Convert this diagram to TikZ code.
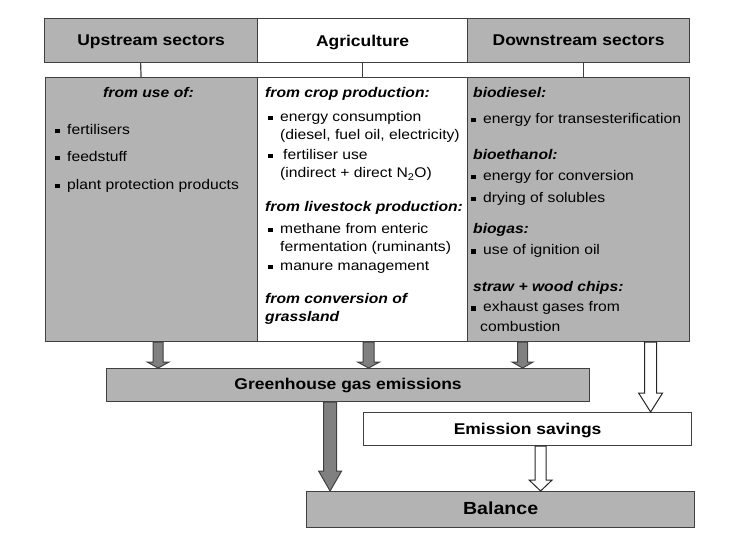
\documentclass[tikz,border=0pt]{standalone}
\usepackage{fontspec}
\setmainfont{Liberation Sans}[FakeStretch=1.12]
\usetikzlibrary{calc}
\definecolor{boxgray}{HTML}{B3B3B3}
\definecolor{arrgray}{HTML}{808080}
\definecolor{edge}{HTML}{404040}
\newcommand\bul{\rule[1.5pt]{4.5pt}{4.5pt}\hspace{7.5pt}}
% #1 style, #2 from, #3 to, #4 half shaft, #5 half head, #6 head length
\newcommand\blockarrow[6]{%
  \path[#1] let \p1=(#2), \p2=(#3) in
    (\x1-#4,\y1) -- (\x1+#4,\y1) -- (\x1+#4,\y2+#6) -- (\x1+#5,\y2+#6) --
    (\x1,\y2) -- (\x1-#5,\y2+#6) -- (\x1-#4,\y2+#6) -- cycle;}
\tikzset{
  box/.style={draw=edge, line width=1.2pt, anchor=north west, inner sep=0pt},
  graybox/.style={box, fill=boxgray},
  whitebox/.style={box, fill=white},
  head/.style={font=\fontsize{15.6}{17}\selectfont\bfseries},
  txt/.style={anchor=base west, inner sep=0pt, font=\fontsize{14}{16}\selectfont},
  sub/.style={txt, font=\fontsize{14}{16}\selectfont\bfseries\itshape},
  tick/.style={draw=edge, line width=1.2pt},
  garrow/.style={fill=arrgray, draw=edge, line width=1pt},
  warrow/.style={fill=white, draw=black!85, line width=1pt},
}
\begin{document}
\begin{tikzpicture}[x=1pt,y=-1pt]
\useasboundingbox (0,0) rectangle (736,537);
% headers
\node[graybox, minimum width=213pt, minimum height=44pt, head, text depth=-2pt] (hup) at (44,18) {Upstream sectors};
\node[whitebox, minimum width=210pt, minimum height=44pt, head, text depth=-2pt] (hagr) at (257,18) {Agriculture};
\node[graybox, minimum width=222pt, minimum height=44pt, head, text depth=-2pt] (hdown) at (467,18) {Downstream sectors};
% body boxes
\node[graybox, minimum width=212pt, minimum height=264pt] (bup) at (45,77) {};
\node[whitebox, minimum width=210pt, minimum height=264pt] (bagr) at (257,77) {};
\node[graybox, minimum width=222pt, minimum height=264pt] (bdown) at (467,77) {};
% ticks
\draw[tick] ([xshift=-10.5pt]hup.south) -- ([xshift=-10pt]hup.south |- bup.north);
\draw[tick] (hagr.south) -- (hagr.south |- bagr.north);
\draw[tick] ([xshift=4.5pt]hdown.south) -- ([xshift=4.5pt]hdown.south |- bdown.north);
% upstream texts
\node[sub] (u0) at (103,98) {from use of:};
\node[txt] (u1) at (55,135) {\bul fertilisers};
\node[txt] (u2) at (55,162) {\bul feedstuff};
\node[txt] (u3) at (55,190) {\bul plant protection products};
% agriculture texts
\node[sub] (a0) at (265,98) {from crop production:};
\node[txt] (a1) at (268,122) {\bul energy consumption};
\node[txt] (a2) at (280,140) {(diesel, fuel oil, electricity)};
\node[txt] (a3) at (268,160) {\bul\hspace{3pt}fertiliser use};
\node[txt] (a4) at (280,178) {(indirect + direct N\textsubscript{2}O)};
\node[sub] (a5) at (265,212) {from livestock production:};
\node[txt] (a6) at (268,234) {\bul methane from enteric};
\node[txt] (a7) at (280,252) {fermentation (ruminants)};
\node[txt] (a8) at (268,271) {\bul manure management};
\node[sub] (a9) at (265,304) {from conversion of};
\node[sub] (a10) at (265,321) {grassland};
% downstream texts
\node[sub] (d0) at (473,98) {biodiesel:};
\node[txt] (d1) at (471,124) {\bul energy for transesterification};
\node[sub] (d2) at (473,160) {bioethanol:};
\node[txt] (d3) at (471,181) {\bul energy for conversion};
\node[txt] (d4) at (471,203) {\bul drying of solubles};
\node[sub] (d5) at (473,234) {biogas:};
\node[txt] (d6) at (471,255) {\bul use of ignition oil};
\node[sub] (d7) at (473,291) {straw + wood chips:};
\node[txt] (d8) at (471,312) {\bul exhaust gases from};
\node[txt] (d9) at (480,331) {combustion};
% lower boxes
\node[graybox, minimum width=483pt, minimum height=33pt, head] (ghg) at (106,368) {Greenhouse gas emissions};
\node[whitebox, minimum width=328pt, minimum height=33pt, head, text depth=-1pt] (sav) at (363,412) {Emission savings};
\node[graybox, minimum width=388pt, minimum height=36pt, font=\fontsize{17.5}{19}\selectfont\bfseries, text depth=2pt] (bal) at (306,491) {Balance};
% arrows
\blockarrow{garrow}{[xshift=6.5pt]bup.south}{ghg.north}{5pt}{11pt}{6pt}
\blockarrow{garrow}{[xshift=6pt]bagr.south}{ghg.north}{5.5pt}{11pt}{6pt}
\blockarrow{garrow}{[xshift=-56pt]bdown.south}{ghg.north}{5pt}{10.5pt}{6pt}
\blockarrow{garrow}{[xshift=-18pt]ghg.south}{bal.north}{6.5pt}{11.5pt}{20pt}
\blockarrow{warrow}{[xshift=72pt]bdown.south}{sav.north}{6pt}{12pt}{19pt}
\blockarrow{warrow}{[xshift=13pt]sav.south}{bal.north}{5.5pt}{11.5pt}{11pt}
\end{tikzpicture}
\end{document}
